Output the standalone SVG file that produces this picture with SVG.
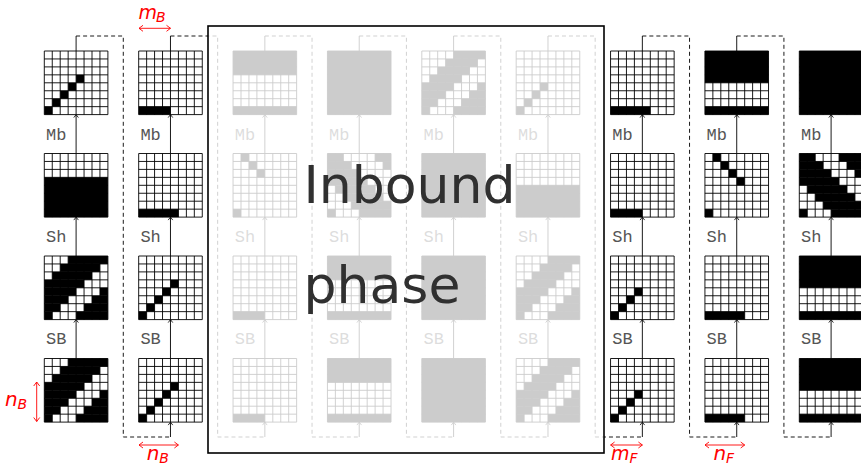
<svg xmlns="http://www.w3.org/2000/svg" xmlns:xlink="http://www.w3.org/1999/xlink" width="861" height="465" viewBox="0 0 861 465">
<style>
.bg{fill:#fff}
.f{fill:#000}
.gr{fill:none;stroke:#000;stroke-width:0.9}
.lbl{font-family:"Liberation Mono",monospace;font-size:17px;fill:#555}
.ln{fill:none;stroke:#000;stroke-width:0.9}
.dash{fill:none;stroke:#000;stroke-width:0.9;stroke-dasharray:4 3}
.red{fill:none;stroke:#f00;stroke-width:0.9}
.rt{font-family:"DejaVu Sans",sans-serif;font-style:italic;fill:#f00}
.big{font-family:"DejaVu Sans",sans-serif;font-size:52px;fill:#303030}
</style>
<defs>
<marker id="ah" viewBox="-4 -4 8 8" refX="0" refY="0" markerWidth="8" markerHeight="8" orient="auto" markerUnits="userSpaceOnUse"><path d="M-3,-2.3L0,0L-3,2.3" fill="none" stroke="#000" stroke-width="0.8"/></marker>
<marker id="rh" viewBox="-5 -5 10 10" refX="0" refY="0" markerWidth="10" markerHeight="10" orient="auto-start-reverse" markerUnits="userSpaceOnUse"><path d="M-4,-3L0,0L-4,3" fill="none" stroke="#f00" stroke-width="0.9"/></marker>
<path id="grid" class="gr" d="M0,0H63.6M0,7.95H63.6M0,15.9H63.6M0,23.85H63.6M0,31.8H63.6M0,39.75H63.6M0,47.7H63.6M0,55.65H63.6M0,63.6H63.6M0,0V63.6M7.95,0V63.6M15.9,0V63.6M23.85,0V63.6M31.8,0V63.6M39.75,0V63.6M47.7,0V63.6M55.65,0V63.6M63.6,0V63.6"/>
<g id="full" class="f"><rect width="8" height="8"/></g>
<g id="d5" class="f"><rect x="0" y="7" width="1" height="1"/><rect x="1" y="6" width="1" height="1"/><rect x="2" y="5" width="1" height="1"/><rect x="3" y="4" width="1" height="1"/><rect x="4" y="3" width="1" height="1"/></g>
<g id="d4" class="f"><rect x="0" y="7" width="1" height="1"/><rect x="1" y="6" width="1" height="1"/><rect x="2" y="5" width="1" height="1"/><rect x="3" y="4" width="1" height="1"/></g>
<g id="b4" class="f"><rect x="0" y="7" width="4" height="1"/></g>
<g id="b5" class="f"><rect x="0" y="7" width="5" height="1"/></g>
<g id="r37" class="f"><rect x="0" y="3" width="8" height="5"/></g>
<g id="r47" class="f"><rect x="0" y="4" width="8" height="4"/></g>
<g id="t3" class="f"><rect x="0" y="0" width="8" height="3"/><rect x="0" y="7" width="8" height="1"/></g>
<g id="t4" class="f"><rect x="0" y="0" width="8" height="4"/><rect x="0" y="7" width="8" height="1"/></g>
<g id="e3" class="f"><rect x="1" y="0" width="1" height="1"/><rect x="2" y="1" width="1" height="1"/><rect x="3" y="2" width="1" height="1"/><rect x="0" y="7" width="1" height="1"/></g>
<g id="e4" class="f"><rect x="1" y="0" width="1" height="1"/><rect x="2" y="1" width="1" height="1"/><rect x="3" y="2" width="1" height="1"/><rect x="4" y="3" width="1" height="1"/><rect x="0" y="7" width="1" height="1"/></g>
<g id="bA" class="f"><rect x="3" y="0" width="5" height="1"/><rect x="2" y="1" width="5" height="1"/><rect x="1" y="2" width="5" height="1"/><rect x="0" y="3" width="5" height="1"/><rect x="0" y="4" width="4" height="1"/><rect x="7" y="4" width="1" height="1"/><rect x="0" y="5" width="3" height="1"/><rect x="6" y="5" width="2" height="1"/><rect x="0" y="6" width="2" height="1"/><rect x="5" y="6" width="3" height="1"/><rect x="0" y="7" width="1" height="1"/><rect x="4" y="7" width="4" height="1"/></g>
<g id="bB" class="f"><rect x="4" y="0" width="4" height="1"/><rect x="3" y="1" width="4" height="1"/><rect x="2" y="2" width="4" height="1"/><rect x="1" y="3" width="4" height="1"/><rect x="0" y="4" width="4" height="1"/><rect x="7" y="4" width="1" height="1"/><rect x="0" y="5" width="3" height="1"/><rect x="6" y="5" width="2" height="1"/><rect x="0" y="6" width="2" height="1"/><rect x="5" y="6" width="3" height="1"/><rect x="0" y="7" width="1" height="1"/><rect x="4" y="7" width="4" height="1"/></g>
<g id="s4" class="f"><rect x="0" y="0" width="2" height="1"/><rect x="6" y="0" width="2" height="1"/><rect x="0" y="1" width="3" height="1"/><rect x="7" y="1" width="1" height="1"/><rect x="0" y="2" width="4" height="1"/><rect x="0" y="3" width="5" height="1"/><rect x="1" y="4" width="5" height="1"/><rect x="2" y="5" width="5" height="1"/><rect x="3" y="6" width="5" height="1"/><rect x="0" y="7" width="1" height="1"/><rect x="4" y="7" width="4" height="1"/></g>
<g id="s9" class="f"><rect x="0" y="0" width="2" height="1"/><rect x="5" y="0" width="3" height="1"/><rect x="0" y="1" width="3" height="1"/><rect x="6" y="1" width="2" height="1"/><rect x="0" y="2" width="4" height="1"/><rect x="7" y="2" width="1" height="1"/><rect x="0" y="3" width="5" height="1"/><rect x="1" y="4" width="5" height="1"/><rect x="2" y="5" width="5" height="1"/><rect x="3" y="6" width="5" height="1"/><rect x="0" y="7" width="1" height="1"/><rect x="4" y="7" width="4" height="1"/></g>
</defs>

<g id="connectors">
<g id="dashed">
<path class="dash" d="M76.1,36H123.29V437H170.475"/>
<path class="dash" d="M170.475,36H217.665V437H264.85"/>
<path class="dash" d="M264.85,36H312.04V437H359.225"/>
<path class="dash" d="M359.225,36H406.415V437H453.6"/>
<path class="dash" d="M453.6,36H500.79V437H547.975"/>
<path class="dash" d="M547.975,36H595.165V437H642.35"/>
<path class="dash" d="M642.35,36H689.54V437H736.725"/>
<path class="dash" d="M736.725,36H783.915V437H831.1"/>
</g>
<g id="arrows" marker-end="url(#ah)">
<path class="ln" d="M76.1,358.5V319.6"/><path class="ln" d="M76.1,256V217.1"/><path class="ln" d="M76.1,153.5V114.6"/>
<path class="ln" d="M170.475,358.5V319.6"/><path class="ln" d="M170.475,256V217.1"/><path class="ln" d="M170.475,153.5V114.6"/><path class="ln" d="M170.475,437V422.1"/>
<path class="ln" d="M264.85,358.5V319.6"/><path class="ln" d="M264.85,256V217.1"/><path class="ln" d="M264.85,153.5V114.6"/><path class="ln" d="M264.85,437V422.1"/>
<path class="ln" d="M359.225,358.5V319.6"/><path class="ln" d="M359.225,256V217.1"/><path class="ln" d="M359.225,153.5V114.6"/><path class="ln" d="M359.225,437V422.1"/>
<path class="ln" d="M453.6,358.5V319.6"/><path class="ln" d="M453.6,256V217.1"/><path class="ln" d="M453.6,153.5V114.6"/><path class="ln" d="M453.6,437V422.1"/>
<path class="ln" d="M547.975,358.5V319.6"/><path class="ln" d="M547.975,256V217.1"/><path class="ln" d="M547.975,153.5V114.6"/><path class="ln" d="M547.975,437V422.1"/>
<path class="ln" d="M642.35,358.5V319.6"/><path class="ln" d="M642.35,256V217.1"/><path class="ln" d="M642.35,153.5V114.6"/><path class="ln" d="M642.35,437V422.1"/>
<path class="ln" d="M736.725,358.5V319.6"/><path class="ln" d="M736.725,256V217.1"/><path class="ln" d="M736.725,153.5V114.6"/><path class="ln" d="M736.725,437V422.1"/>
<path class="ln" d="M831.1,358.5V319.6"/><path class="ln" d="M831.1,256V217.1"/><path class="ln" d="M831.1,153.5V114.6"/><path class="ln" d="M831.1,437V422.1"/>
</g>
<path class="ln" d="M76.1,51V36M170.475,51V36M264.85,51V36M359.225,51V36M453.6,51V36M547.975,51V36M642.35,51V36M736.725,51V36"/>
<g id="labels" class="lbl">
<text x="46" y="140">Mb</text><text x="46" y="242">Sh</text><text x="46" y="344">SB</text>
<text x="140.4" y="140">Mb</text><text x="140.4" y="242">Sh</text><text x="140.4" y="344">SB</text>
<text x="234.8" y="140">Mb</text><text x="234.8" y="242">Sh</text><text x="234.8" y="344">SB</text>
<text x="329.1" y="140">Mb</text><text x="329.1" y="242">Sh</text><text x="329.1" y="344">SB</text>
<text x="423.5" y="140">Mb</text><text x="423.5" y="242">Sh</text><text x="423.5" y="344">SB</text>
<text x="517.9" y="140">Mb</text><text x="517.9" y="242">Sh</text><text x="517.9" y="344">SB</text>
<text x="612.3" y="140">Mb</text><text x="612.3" y="242">Sh</text><text x="612.3" y="344">SB</text>
<text x="706.6" y="140">Mb</text><text x="706.6" y="242">Sh</text><text x="706.6" y="344">SB</text>
<text x="801" y="140">Mb</text><text x="801" y="242">Sh</text><text x="801" y="344">SB</text>
</g>
</g>

<g id="col1">
<g id="n1-1" transform="translate(44.3,51)"><rect class="bg" width="63.6" height="63.6"/><use href="#d5" transform="scale(7.95)"/><use href="#grid"/></g>
<g id="n1-2" transform="translate(44.3,153.5)"><rect class="bg" width="63.6" height="63.6"/><use href="#r37" transform="scale(7.95)"/><use href="#grid"/></g>
<g id="n1-3" transform="translate(44.3,256)"><rect class="bg" width="63.6" height="63.6"/><use href="#bA" transform="scale(7.95)"/><use href="#grid"/></g>
<g id="n1-4" transform="translate(44.3,358.5)"><rect class="bg" width="63.6" height="63.6"/><use href="#bA" transform="scale(7.95)"/><use href="#grid"/></g>
</g>
<g id="col2">
<g id="n2-1" transform="translate(138.675,51)"><rect class="bg" width="63.6" height="63.6"/><use href="#b4" transform="scale(7.95)"/><use href="#grid"/></g>
<g id="n2-2" transform="translate(138.675,153.5)"><rect class="bg" width="63.6" height="63.6"/><use href="#b5" transform="scale(7.95)"/><use href="#grid"/></g>
<g id="n2-3" transform="translate(138.675,256)"><rect class="bg" width="63.6" height="63.6"/><use href="#d5" transform="scale(7.95)"/><use href="#grid"/></g>
<g id="n2-4" transform="translate(138.675,358.5)"><rect class="bg" width="63.6" height="63.6"/><use href="#d5" transform="scale(7.95)"/><use href="#grid"/></g>
</g>
<g id="col3">
<g id="n3-1" transform="translate(233.05,51)"><rect class="bg" width="63.6" height="63.6"/><use href="#t3" transform="scale(7.95)"/><use href="#grid"/></g>
<g id="n3-2" transform="translate(233.05,153.5)"><rect class="bg" width="63.6" height="63.6"/><use href="#e3" transform="scale(7.95)"/><use href="#grid"/></g>
<g id="n3-3" transform="translate(233.05,256)"><rect class="bg" width="63.6" height="63.6"/><use href="#b4" transform="scale(7.95)"/><use href="#grid"/></g>
<g id="n3-4" transform="translate(233.05,358.5)"><rect class="bg" width="63.6" height="63.6"/><use href="#b4" transform="scale(7.95)"/><use href="#grid"/></g>
</g>
<g id="col4">
<g id="n4-1" transform="translate(327.425,51)"><rect class="bg" width="63.6" height="63.6"/><use href="#full" transform="scale(7.95)"/><use href="#grid"/></g>
<g id="n4-2" transform="translate(327.425,153.5)"><rect class="bg" width="63.6" height="63.6"/><use href="#s4" transform="scale(7.95)"/><use href="#grid"/></g>
<g id="n4-3" transform="translate(327.425,256)"><rect class="bg" width="63.6" height="63.6"/><use href="#t3" transform="scale(7.95)"/><use href="#grid"/></g>
<g id="n4-4" transform="translate(327.425,358.5)"><rect class="bg" width="63.6" height="63.6"/><use href="#t3" transform="scale(7.95)"/><use href="#grid"/></g>
</g>
<g id="col5">
<g id="n5-1" transform="translate(421.8,51)"><rect class="bg" width="63.6" height="63.6"/><use href="#bB" transform="scale(7.95)"/><use href="#grid"/></g>
<g id="n5-2" transform="translate(421.8,153.5)"><rect class="bg" width="63.6" height="63.6"/><use href="#full" transform="scale(7.95)"/><use href="#grid"/></g>
<g id="n5-3" transform="translate(421.8,256)"><rect class="bg" width="63.6" height="63.6"/><use href="#full" transform="scale(7.95)"/><use href="#grid"/></g>
<g id="n5-4" transform="translate(421.8,358.5)"><rect class="bg" width="63.6" height="63.6"/><use href="#full" transform="scale(7.95)"/><use href="#grid"/></g>
</g>
<g id="col6">
<g id="n6-1" transform="translate(516.175,51)"><rect class="bg" width="63.6" height="63.6"/><use href="#d4" transform="scale(7.95)"/><use href="#grid"/></g>
<g id="n6-2" transform="translate(516.175,153.5)"><rect class="bg" width="63.6" height="63.6"/><use href="#r47" transform="scale(7.95)"/><use href="#grid"/></g>
<g id="n6-3" transform="translate(516.175,256)"><rect class="bg" width="63.6" height="63.6"/><use href="#bB" transform="scale(7.95)"/><use href="#grid"/></g>
<g id="n6-4" transform="translate(516.175,358.5)"><rect class="bg" width="63.6" height="63.6"/><use href="#bB" transform="scale(7.95)"/><use href="#grid"/></g>
</g>
<g id="col7">
<g id="n7-1" transform="translate(610.55,51)"><rect class="bg" width="63.6" height="63.6"/><use href="#b5" transform="scale(7.95)"/><use href="#grid"/></g>
<g id="n7-2" transform="translate(610.55,153.5)"><rect class="bg" width="63.6" height="63.6"/><use href="#b4" transform="scale(7.95)"/><use href="#grid"/></g>
<g id="n7-3" transform="translate(610.55,256)"><rect class="bg" width="63.6" height="63.6"/><use href="#d4" transform="scale(7.95)"/><use href="#grid"/></g>
<g id="n7-4" transform="translate(610.55,358.5)"><rect class="bg" width="63.6" height="63.6"/><use href="#d4" transform="scale(7.95)"/><use href="#grid"/></g>
</g>
<g id="col8">
<g id="n8-1" transform="translate(704.925,51)"><rect class="bg" width="63.6" height="63.6"/><use href="#t4" transform="scale(7.95)"/><use href="#grid"/></g>
<g id="n8-2" transform="translate(704.925,153.5)"><rect class="bg" width="63.6" height="63.6"/><use href="#e4" transform="scale(7.95)"/><use href="#grid"/></g>
<g id="n8-3" transform="translate(704.925,256)"><rect class="bg" width="63.6" height="63.6"/><use href="#b5" transform="scale(7.95)"/><use href="#grid"/></g>
<g id="n8-4" transform="translate(704.925,358.5)"><rect class="bg" width="63.6" height="63.6"/><use href="#b5" transform="scale(7.95)"/><use href="#grid"/></g>
</g>
<g id="col9">
<g id="n9-1" transform="translate(799.3,51)"><rect class="bg" width="63.6" height="63.6"/><use href="#full" transform="scale(7.95)"/><use href="#grid"/></g>
<g id="n9-2" transform="translate(799.3,153.5)"><rect class="bg" width="63.6" height="63.6"/><use href="#s9" transform="scale(7.95)"/><use href="#grid"/></g>
<g id="n9-3" transform="translate(799.3,256)"><rect class="bg" width="63.6" height="63.6"/><use href="#t4" transform="scale(7.95)"/><use href="#grid"/></g>
<g id="n9-4" transform="translate(799.3,358.5)"><rect class="bg" width="63.6" height="63.6"/><use href="#t4" transform="scale(7.95)"/><use href="#grid"/></g>
</g>

<g id="inbound">
<rect x="208" y="26" width="396" height="427" fill="#fff" fill-opacity="0.8"/>
<rect x="208" y="26" width="396" height="427" fill="none" stroke="#000" stroke-width="1.6"/>
<text class="big" x="303.5" y="203">Inbound</text>
<text class="big" x="303.5" y="303">phase</text>
</g>

<g id="annotations">
<path class="red" d="M139,28.3H170.5" marker-start="url(#rh)" marker-end="url(#rh)"/>
<path class="red" d="M36.7,382V421.5" marker-start="url(#rh)" marker-end="url(#rh)"/>
<path class="red" d="M139,445H178.4" marker-start="url(#rh)" marker-end="url(#rh)"/>
<path class="red" d="M610.6,445H642.4" marker-start="url(#rh)" marker-end="url(#rh)"/>
<path class="red" d="M705,445H744.7" marker-start="url(#rh)" marker-end="url(#rh)"/>
<text class="rt" x="138.5" y="18.5" font-size="19">m</text><text class="rt" x="156" y="22" font-size="14">B</text>
<text class="rt" x="5" y="406" font-size="20">n</text><text class="rt" x="17.5" y="409" font-size="14">B</text>
<text class="rt" x="146.8" y="459.5" font-size="20">n</text><text class="rt" x="159.3" y="462.5" font-size="14">B</text>
<text class="rt" x="611" y="459.5" font-size="19">m</text><text class="rt" x="629.5" y="462.5" font-size="14">F</text>
<text class="rt" x="713.5" y="459.5" font-size="20">n</text><text class="rt" x="726" y="462.5" font-size="14">F</text>
</g>
</svg>
